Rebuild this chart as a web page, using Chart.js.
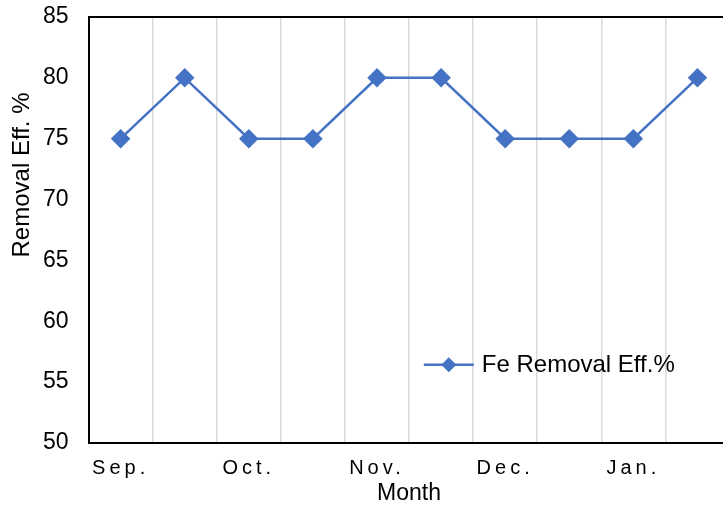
<!DOCTYPE html>
<html>
<head>
<meta charset="utf-8">
<script src="https://cdn.jsdelivr.net/npm/chart.js@4"></script>
<style>
  html, body { margin: 0; padding: 0; background: #fff; overflow: hidden; }
  #wrap { width: 740px; height: 507px; }
</style>
</head>
<body>
<div id="wrap"><canvas id="grafico"></canvas></div>
<script>
// --- DATOS ---
const meses = ["Sep.", "", "Oct.", "", "Nov.", "", "Dec.", "", "Jan.", ""];
const feRemoval = [75, 80, 75, 75, 80, 80, 75, 75, 75, 80];
const serieNombre = "Fe Removal Eff.%";
const tituloX = "Month";
const tituloY = "Removal Eff. %";

const azul = "#4472C4";
const fuente = "'Liberation Sans', Arial, sans-serif";

// etiquetas del eje X con espaciado entre letras
const espaciadoX = {
  id: "espaciadoX",
  afterUpdate(chart) {
    const sx = chart.scales.x;
    if (sx && !sx._espaciado) {
      const orig = sx.drawLabels;
      sx.drawLabels = function (area) {
        const ctx = this.ctx;
        ctx.save();
        ctx.letterSpacing = "4px";
        orig.call(this, area);
        ctx.restore();
      };
      sx._espaciado = true;
    }
  }
};

// borde superior, titulo Y y leyenda dentro del grafico
const extras = {
  id: "extras",
  afterDraw(chart) {
    const ctx = chart.ctx;
    const a = chart.chartArea;
    ctx.save();
    ctx.strokeStyle = "#000";
    ctx.lineWidth = 2;
    ctx.beginPath();
    ctx.moveTo(a.left, a.top);
    ctx.lineTo(a.right, a.top);
    ctx.stroke();

    // titulo eje Y
    ctx.translate(22, 175);
    ctx.rotate(-Math.PI / 2);
    ctx.fillStyle = "#000";
    ctx.font = "24px " + fuente;
    ctx.textAlign = "center";
    ctx.textBaseline = "middle";
    ctx.fillText(tituloY, 0, 0);
    ctx.restore();

    // leyenda
    const ds = chart.data.datasets[0];
    const lx = a.left + (a.right - a.left) * 0.523;
    const ly = chart.scales.y.getPixelForValue(51) - 66;
    ctx.save();
    ctx.strokeStyle = ds.borderColor;
    ctx.lineWidth = ds.borderWidth;
    ctx.beginPath();
    ctx.moveTo(lx, ly);
    ctx.lineTo(lx + 50, ly);
    ctx.stroke();
    ctx.fillStyle = ds.pointBackgroundColor;
    ctx.beginPath();
    ctx.moveTo(lx + 25, ly - 7.5);
    ctx.lineTo(lx + 32.5, ly);
    ctx.lineTo(lx + 25, ly + 7.5);
    ctx.lineTo(lx + 17.5, ly);
    ctx.closePath();
    ctx.fill();
    ctx.fillStyle = "#000";
    ctx.font = "24px " + fuente;
    ctx.textBaseline = "middle";
    ctx.fillText(ds.label, lx + 58, ly + 1);
    ctx.restore();
  }
};

new Chart(document.getElementById("grafico"), {
  type: "line",
  data: {
    labels: meses,
    datasets: [{
      label: serieNombre,
      data: feRemoval,
      borderColor: azul,
      backgroundColor: azul,
      pointBackgroundColor: azul,
      pointBorderColor: azul,
      pointStyle: "rectRot",
      pointRadius: 8,
      pointHoverRadius: 8,
      borderWidth: 2.5,
      tension: 0
    }]
  },
  options: {
    responsive: true,
    maintainAspectRatio: false,
    animation: false,
    layout: { padding: { left: 23, right: 6, top: 17, bottom: 0 } },
    plugins: {
      legend: { display: false },
      tooltip: { enabled: false }
    },
    scales: {
      x: {
        offset: true,
        afterFit(scale) { scale.height = 64; },
        grid: { display: true, offset: true, color: "#d9d9d9", lineWidth: 1.5, drawTicks: false },
        border: { display: true, color: "#000", width: 2 },
        ticks: {
          autoSkip: false,
          maxRotation: 0,
          padding: 13,
          color: "#000",
          font: { family: fuente, size: 20 }
        },
        title: {
          display: true,
          text: tituloX,
          color: "#000",
          font: { family: fuente, size: 23 },
          padding: { top: 0, bottom: 0 }
        }
      },
      y: {
        min: 50,
        max: 85,
        afterFit(scale) { scale.paddingTop = 0; scale.paddingBottom = 0; },
        ticks: {
          stepSize: 5,
          padding: 20,
          color: "#000",
          font: { family: fuente, size: 23 }
        },
        grid: { display: false, drawTicks: false },
        border: { display: true, color: "#000", width: 2 }
      }
    }
  },
  plugins: [espaciadoX, extras]
});
</script>
</body>
</html>
